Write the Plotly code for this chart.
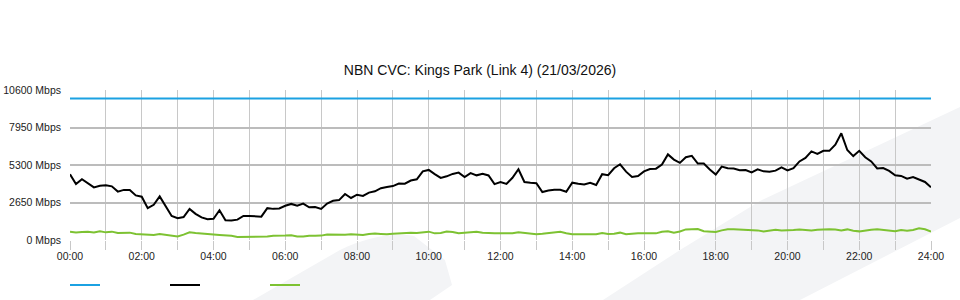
import plotly.graph_objects as go

# ---- data (10-minute samples, values in Mbps) ----
hours = [i / 6 for i in range(145)]
tick_hours = list(range(0, 25, 2))
tick_labels = ["%02d:00" % h for h in tick_hours]
y_ticks = [0, 2650, 5300, 7950, 10600]
y_labels = ["%d Mbps" % v for v in y_ticks]

capacity = [10000] * 145

traffic_black = [
    4650, 3950, 4300, 4030, 3720, 3830, 3870, 3790, 3420, 3540,
    3530, 3150, 3060, 2250, 2490, 3080, 2400, 1700, 1540, 1620,
    2200, 1850, 1600, 1470, 1500, 2100, 1400, 1380, 1440, 1700,
    1700, 1690, 1650, 2250, 2200, 2230, 2420, 2550, 2420, 2570,
    2310, 2330, 2200, 2580, 2770, 2820, 3250, 2970, 3200, 3110,
    3350, 3440, 3660, 3750, 3810, 3990, 3980, 4200, 4290, 4850,
    4950, 4660, 4390, 4500, 4670, 4760, 4450, 4730, 4570, 4680,
    4560, 3950, 4100, 3960, 4400, 5000, 4100, 4050, 4010, 3390,
    3500, 3550, 3550, 3410, 4050, 3970, 3930, 4050, 3890, 4650,
    4580, 5070, 5350, 4830, 4460, 4520, 4850, 5010, 5040, 5330,
    6050, 5680, 5450, 5850, 5950, 5400, 5400, 4980, 4620, 5190,
    5070, 5050, 4930, 4950, 4780, 4990, 4850, 4820, 4900, 5130,
    4920, 5070, 5550, 5800, 6260, 6080, 6300, 6300, 6740, 7540,
    6360, 5930, 6300, 5850, 5550, 5060, 5080, 4880, 4570, 4530,
    4330, 4450, 4290, 4100, 3720,
]

traffic_green = [
    590, 530, 560, 580, 530, 620, 540, 590, 490, 520,
    520, 420, 410, 350, 350, 420, 360, 300, 250, 380,
    540, 490, 470, 410, 380, 350, 350, 300, 220, 220,
    200, 190, 200, 240, 300, 280, 310, 340, 250, 240,
    300, 300, 310, 390, 370, 350, 370, 400, 380, 360,
    430, 460, 430, 400, 440, 470, 490, 510, 500, 560,
    590, 470, 500, 600, 570, 480, 510, 550, 590, 520,
    480, 470, 470, 470, 470, 550, 500, 450, 410, 440,
    480, 540, 580, 480, 410, 400, 400, 400, 400, 500,
    430, 450, 520, 410, 450, 470, 470, 470, 470, 580,
    620, 510, 600, 750, 770, 770, 620, 570, 560, 680,
    760, 760, 740, 710, 710, 680, 600, 680, 730, 670,
    660, 700, 750, 700, 680, 720, 750, 760, 750, 680,
    750, 650, 610, 690, 730, 760, 730, 670, 620, 700,
    660, 710, 830, 760, 590,
]

# ---- figure ----
W, H = 960, 300
L, R, T, B = 70, 29, 90, 60
PW, PH = W - L - R, H - T - B


def px(x, y):
    return (x - L) / PW, (H - B - y) / PH


def path(points):
    s = ""
    for cmd, pts in points:
        coords = " ".join("%.4f,%.4f" % px(x, y) for x, y in pts)
        s += cmd + coords + " "
    return s + "Z"


wm = "#f3f4f6"
shapes = [
    dict(type="path", xref="paper", yref="paper", layer="below", line=dict(width=0), fillcolor=wm,
         path=path([("M", [(253, 300)]), ("L", [(340, 250)]),
                    ("C", [(365, 238), (392, 232), (414, 236)]),
                    ("L", [(445, 260)]), ("L", [(452, 285)]), ("L", [(430, 300)])])),
    dict(type="path", xref="paper", yref="paper", layer="below", line=dict(width=0), fillcolor=wm,
         path=path([("M", [(603, 300)]), ("L", [(680, 250)]), ("L", [(760, 201)]),
                    ("L", [(960, 107)]), ("L", [(960, 218)]), ("L", [(800, 300)])])),
]

fig = go.Figure()
fig.add_trace(go.Scatter(x=hours, y=capacity, mode="lines", name="",
                         line=dict(color="#1ba1e2", width=2)))
fig.add_trace(go.Scatter(x=hours, y=traffic_black, mode="lines", name="",
                         line=dict(color="#000000", width=2)))
fig.add_trace(go.Scatter(x=hours, y=traffic_green, mode="lines", name="",
                         line=dict(color="#7dc232", width=2)))

fig.update_layout(
    width=W, height=H,
    margin=dict(l=L, r=R, t=T, b=B, pad=0, autoexpand=False),
    paper_bgcolor="white",
    plot_bgcolor="rgba(0,0,0,0)",
    font=dict(family="Liberation Sans, Arial, sans-serif", size=10.5, color="#222"),
    title=dict(text="NBN CVC: Kings Park (Link 4) (21/03/2026)", x=0.5, xanchor="center",
               y=1 - 70 / H, yanchor="middle", yref="container",
               font=dict(size=14, color="#111")),
    shapes=shapes,
    showlegend=True,
    legend=dict(orientation="h", xref="container", yref="container",
                x=65 / W, xanchor="left", y=1 - 285 / H, yanchor="middle",
                entrywidth=55, entrywidthmode="pixels", font=dict(size=10, color="white"),
                bgcolor="rgba(0,0,0,0)", itemclick=False),
)

fig.update_xaxes(
    range=[0, 24], tickmode="array", tickvals=tick_hours, ticktext=tick_labels,
    showgrid=True, gridcolor="#c8c8c8", gridwidth=1,
    ticks="outside", ticklen=9, tickcolor="#c8c8c8", tickwidth=1, ticklabelstandoff=-3,
    minor=dict(dtick=1, tick0=0, showgrid=True, gridcolor="#c8c8c8", gridwidth=1,
               ticks="outside", ticklen=9, tickcolor="#c8c8c8"),
    zeroline=False, showline=False, fixedrange=True, automargin=False,
)
fig.update_yaxes(
    range=[0, 10600], tickmode="array", tickvals=y_ticks, ticktext=y_labels,
    showgrid=True, gridcolor="#bcbcbc", gridwidth=2,
    ticks="", ticklabelstandoff=8,
    zeroline=False, showline=False, fixedrange=True, automargin=False,
)

fig.write_html("out.html", config={"displayModeBar": False})
